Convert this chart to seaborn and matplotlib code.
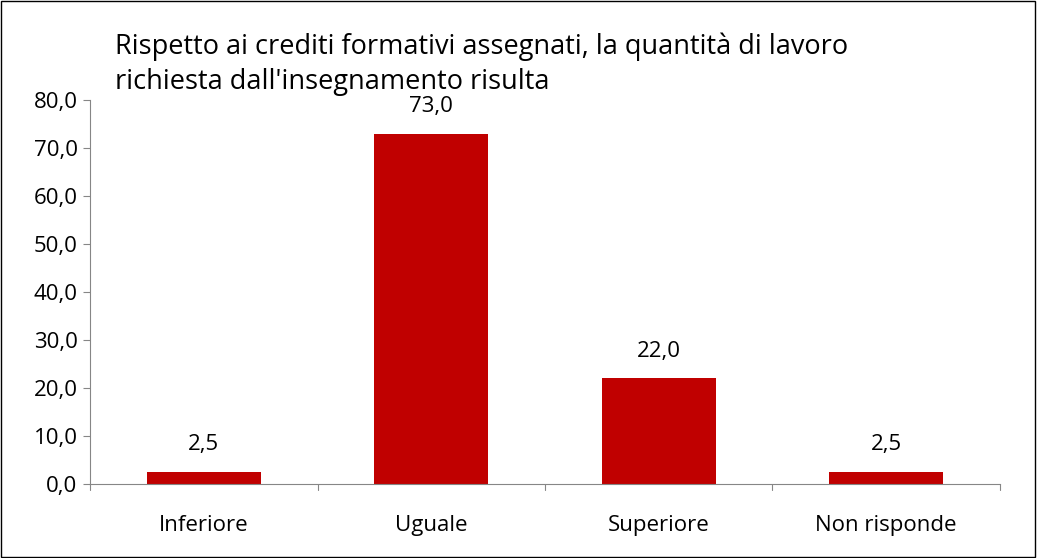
import matplotlib
matplotlib.use("Agg")
import matplotlib.pyplot as plt
import pandas as pd
import seaborn as sns

categories = ["Inferiore", "Uguale", "Superiore", "Non risponde"]
values = [2.5, 73.0, 22.0, 2.5]
y_ticks = [0, 10, 20, 30, 40, 50, 60, 70, 80]
title = "Rispetto ai crediti formativi assegnati, la quantità di lavoro\nrichiesta dall'insegnamento risulta"

BAR_COLOR = "#C00000"

sns.set_style("white")
plt.rcParams["font.family"] = ["Open Sans", "DejaVu Sans"]
plt.rcParams["text.color"] = "black"
plt.rcParams["xtick.color"] = "black"
plt.rcParams["ytick.color"] = "black"

df = pd.DataFrame({"categoria": categories, "valore": values})

fig = plt.figure(figsize=(10.37, 5.58), dpi=100)
ax = fig.add_axes([0.0868, 0.1326, 0.8775, 0.6882])

sns.barplot(data=df, x="categoria", y="valore", color=BAR_COLOR, width=0.5,
            saturation=1, linewidth=0, ax=ax)

ax.set_ylim(0, 80)
ax.set_xlim(-0.5, len(categories) - 0.5)
ax.set_yticks(y_ticks)
ax.set_yticklabels([f"{v:.1f}".replace(".", ",") for v in y_ticks], fontsize=16)
ax.set_xticks(range(len(categories)))
ax.set_xticklabels(categories, fontsize=16)
ax.tick_params(axis="x", length=0, pad=22)
ax.tick_params(axis="y", length=5, width=0.8, color="#868686", left=True, pad=4)
ax.set_xlabel("")
ax.set_ylabel("")

# tick marks at the category boundaries
for b in [i - 0.5 for i in range(len(categories) + 1)]:
    ax.plot([b, b], [0, -1.2], color="#868686", lw=0.8, clip_on=False)

for s in ["top", "right"]:
    ax.spines[s].set_visible(False)
for s in ["left", "bottom"]:
    ax.spines[s].set_color("#868686")
    ax.spines[s].set_linewidth(0.8)

for i, v in enumerate(values):
    ax.text(i, v + 3.5, f"{v:.1f}".replace(".", ","), ha="center", va="bottom",
            fontsize=16)

fig.text(0.111, 0.885, title, ha="left", va="center", fontsize=19.5,
         linespacing=1.32)

fig.patches.append(plt.Rectangle((0.001, 0.001), 0.997, 0.997, transform=fig.transFigure,
                                 fill=False, edgecolor="black", lw=1))

fig.savefig("out.png", dpi=100)
